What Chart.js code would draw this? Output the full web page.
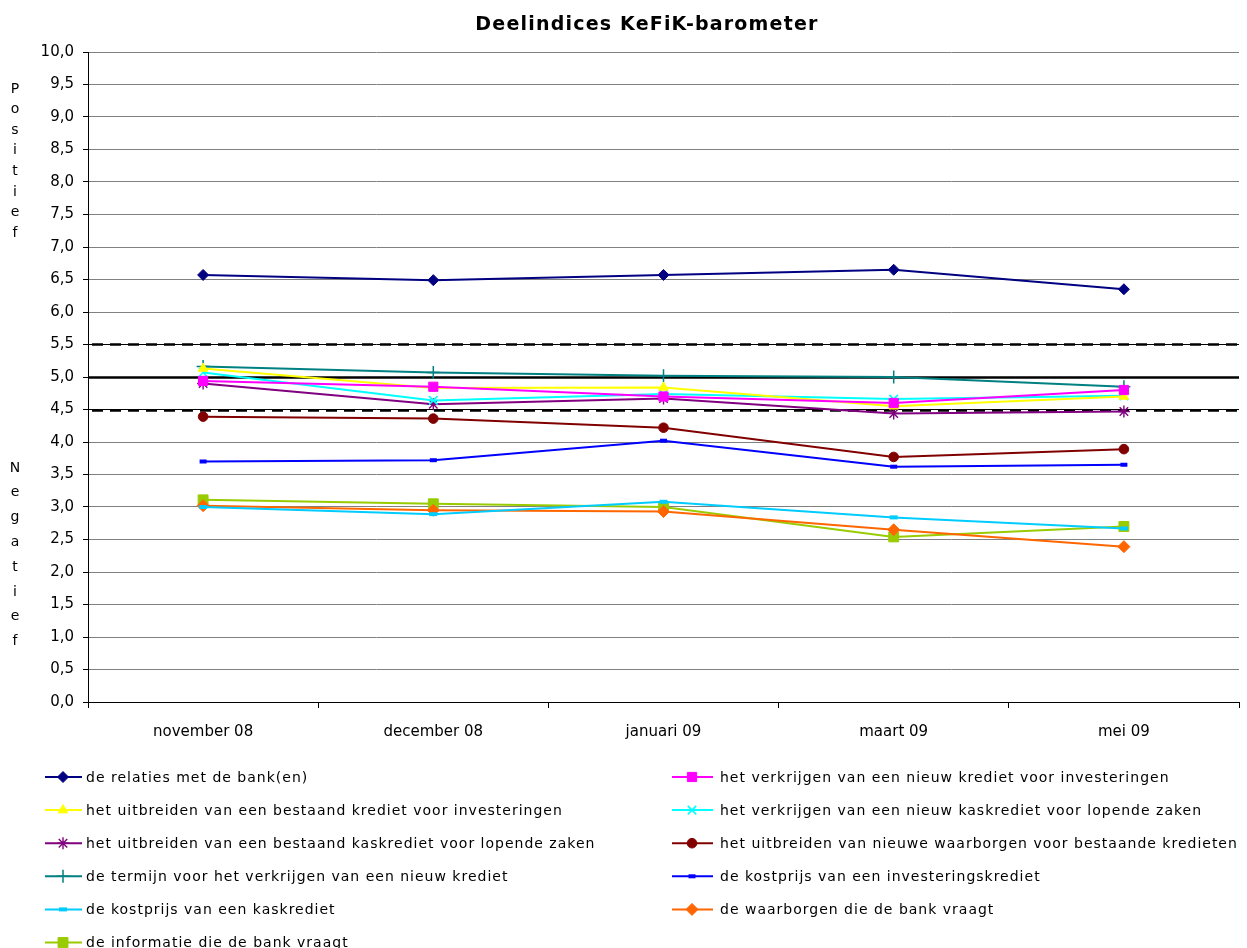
<!DOCTYPE html>
<html>
<head>
<meta charset="utf-8">
<script src="https://cdn.jsdelivr.net/npm/chart.js@4.4.1/dist/chart.umd.min.js"></script>
<style>
  html, body { margin: 0; padding: 0; background: #fff; }
  #wrap { width: 1247px; height: 948px; }
</style>
</head>
<body>
<div id="wrap"><canvas id="chart" width="1247" height="948"></canvas></div>
<script>
const months = ['november 08', 'december 08', 'januari 09', 'maart 09', 'mei 09'];

const relaties            = [6.57, 6.49, 6.57, 6.65, 6.35];
const nieuwKredietInvest  = [4.94, 4.85, 4.70, 4.60, 4.80];
const bestaandKrediet     = [5.13, 4.83, 4.84, 4.55, 4.70];
const nieuwKaskrediet     = [5.07, 4.64, 4.74, 4.66, 4.71];
const bestaandKaskrediet  = [4.90, 4.58, 4.67, 4.44, 4.47];
const waarborgenKrediet   = [4.39, 4.36, 4.22, 3.77, 3.89];
const termijn             = [5.16, 5.07, 5.02, 5.00, 4.85];
const kostprijsInvest     = [3.70, 3.72, 4.02, 3.62, 3.65];
const kostprijsKas        = [3.00, 2.89, 3.08, 2.84, 2.67];
const waarborgenBank      = [3.02, 2.95, 2.93, 2.65, 2.39];
const informatie          = [3.11, 3.05, 3.00, 2.54, 2.70];

const FONT = 'DejaVu Sans';

function serie(label, data, color, style, radius, bw) {
    return {
        label: label,
        data: data,
        borderColor: color,
        backgroundColor: color,
        borderWidth: 2,
        pointStyle: style,
        pointRadius: radius,
        pointBorderWidth: bw,
        pointBackgroundColor: color,
        pointBorderColor: color,
        tension: 0
    };
}

const datasets = [
    serie('de relaties met de bank(en)', relaties, '#000080', 'rectRot', 5.5, 1),
    serie('het verkrijgen van een nieuw krediet voor investeringen', nieuwKredietInvest, '#ff00ff', 'rect', 6.5, 1),
    serie('het uitbreiden van een bestaand krediet voor investeringen', bestaandKrediet, '#ffff00', 'triangle', 5.5, 1),
    serie('het verkrijgen van een nieuw kaskrediet voor lopende zaken', nieuwKaskrediet, '#00ffff', 'crossRot', 6, 1.6),
    serie('het uitbreiden van een bestaand kaskrediet voor lopende zaken', bestaandKaskrediet, '#800080', 'star', 6, 1.4),
    serie('het uitbreiden van nieuwe waarborgen voor bestaande kredieten', waarborgenKrediet, '#800000', 'circle', 4.8, 1),
    serie('de termijn voor het verkrijgen van een nieuw krediet', termijn, '#008080', 'cross', 6.5, 1.5),
    serie('de kostprijs van een investeringskrediet', kostprijsInvest, '#0000ff', 'line', 3.5, 4),
    serie('de kostprijs van een kaskrediet', kostprijsKas, '#00ccff', 'line', 4, 4),
    serie('de waarborgen die de bank vraagt', waarborgenBank, '#ff6600', 'rectRot', 6, 1),
    serie('de informatie die de bank vraagt', informatie, '#99cc00', 'rect', 7, 1)
];

// 4.5 / 5.5 dashed band and solid 5.0 line
const refLines = {
    id: 'refLines',
    beforeDatasetsDraw(chart) {
        const { ctx, chartArea: { left, right }, scales: { y } } = chart;
        ctx.save();
        ctx.strokeStyle = '#000';
        ctx.lineWidth = 2.5;
        ctx.beginPath();
        ctx.moveTo(left, Math.round(y.getPixelForValue(5)) + 0.5);
        ctx.lineTo(right, Math.round(y.getPixelForValue(5)) + 0.5);
        ctx.stroke();
        ctx.setLineDash([11, 7]);
        ctx.lineDashOffset = -4;
        [4.5, 5.5].forEach(v => {
            const py = Math.round(y.getPixelForValue(v)) + 0.5;
            ctx.beginPath();
            ctx.moveTo(left, py);
            ctx.lineTo(right, py);
            ctx.stroke();
        });
        ctx.restore();
    }
};

// title, vertical side words and two-column legend
const extras = {
    id: 'extras',
    afterDraw(chart) {
        const { ctx } = chart;
        ctx.save();
        ctx.fillStyle = '#000';
        ctx.textAlign = 'center';
        ctx.textBaseline = 'middle';
        ctx.font = 'bold 19px ' + FONT;
        ctx.letterSpacing = '1.2px';
        ctx.fillText('Deelindices KeFiK-barometer', 647, 25);
        ctx.letterSpacing = '0px';

        ctx.font = '14px ' + FONT;
        'Positief'.split('').forEach((ch, i) => ctx.fillText(ch, 15, 89 + i * 20.6));
        'Negatief'.split('').forEach((ch, i) => ctx.fillText(ch, 15, 468 + i * 24.8));

        ctx.textAlign = 'left';
        ctx.font = '14px ' + FONT;
        chart.data.datasets.forEach((ds, i) => {
            const col = i % 2;
            const row = Math.floor(i / 2);
            const y = 777 + row * 33.1;
            const x0 = col ? 672 : 45;
            const x1 = col ? 713 : 82;
            const mx = col ? 692 : 63;
            const tx = col ? 720 : 86;
            ctx.strokeStyle = ds.borderColor;
            ctx.fillStyle = ds.backgroundColor;
            ctx.lineWidth = 2;
            ctx.setLineDash([]);
            ctx.beginPath();
            ctx.moveTo(x0, y);
            ctx.lineTo(x1, y);
            ctx.stroke();
            ctx.lineWidth = ds.pointBorderWidth;
            Chart.helpers.drawPoint(ctx, {
                pointStyle: ds.pointStyle,
                radius: ds.pointRadius,
                borderWidth: ds.pointBorderWidth,
                rotation: 0
            }, mx, y);
            ctx.fillStyle = '#000';
            ctx.letterSpacing = '1px';
            ctx.fillText(ds.label, tx, y + 1);
            ctx.letterSpacing = '0px';
        });
        ctx.restore();
    }
};

new Chart(document.getElementById('chart').getContext('2d'), {
    type: 'line',
    data: { labels: months, datasets: datasets },
    options: {
        responsive: false,
        animation: false,
        devicePixelRatio: 1,
        layout: { padding: { top: 52, right: 5, left: 0, bottom: 0 } },
        plugins: {
            legend: { display: false },
            title: { display: false },
            tooltip: { enabled: false }
        },
        scales: {
            x: {
                offset: true,
                afterFit: (scale) => { scale.height = 246; },
                grid: {
                    offset: true,
                    drawOnChartArea: false,
                    tickLength: 6,
                    tickColor: '#000'
                },
                border: { color: '#000', width: 1 },
                ticks: {
                    color: '#000',
                    padding: 15,
                    maxRotation: 0,
                    font: { family: FONT, size: 15 }
                }
            },
            y: {
                min: 0,
                max: 10,
                afterFit: (scale) => { scale.width = 88; },
                grid: {
                    color: (c) => c.tick && c.tick.value === 5 ? 'rgba(0,0,0,0)' :
                        (c.tick && (c.tick.value === 4.5 || c.tick.value === 5.5) ? '#000' : '#808080'),
                    tickLength: 5,
                    tickColor: '#000'
                },
                border: { color: '#000', width: 1 },
                ticks: {
                    stepSize: 0.5,
                    color: '#000',
                    padding: 9,
                    font: { family: FONT, size: 15 },
                    callback: (v) => v.toFixed(1).replace('.', ',')
                }
            }
        }
    },
    plugins: [refLines, extras]
});
</script>
</body>
</html>
